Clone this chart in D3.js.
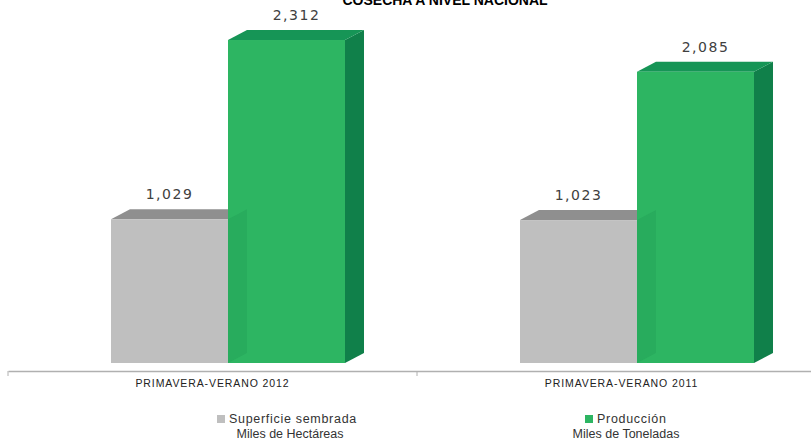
<!DOCTYPE html>
<html><head><meta charset="utf-8">
<script src="https://cdn.jsdelivr.net/npm/d3@7"></script>
<style>body{margin:0;background:#fff;}svg{display:block;}</style>
</head><body>
<svg id="c" width="811" height="441"></svg>
<script>
const title = "COSECHA A NIVEL NACIONAL";
const categories = ["PRIMAVERA-VERANO 2012", "PRIMAVERA-VERANO 2011"];
const seriesNames = ["Superficie sembrada", "Producción"];
const seriesUnits = ["Miles de Hectáreas", "Miles de Toneladas"];
const superficie = [1029, 1023];
const produccion = [2312, 2085];
const valueLabels = [["1,029", "1,023"], ["2,312", "2,085"]];

const svg = d3.select("#c");
const baseY = 363, axisY = 371;
const dx = 19, dy = 10;
const barW = 117;
const colors = [
  {front: "#bfbfbf", top: "#8f8f8f", side: "#9a9a9a"},
  {front: "#2db562", top: "#169556", side: "#10804a"}
];

const x = d3.scaleBand().domain(categories).range([8, 826]);
const y = d3.scaleLinear().domain([0, 2500]).range([baseY, baseY - 2500 * 0.1397]);

// title (cut off at top as in the reference)
svg.append("text").attr("x", 445).attr("y", 5).attr("text-anchor", "middle")
  .attr("font-family", "Liberation Sans, Arial, sans-serif").attr("font-weight", "bold")
  .attr("font-size", 14).attr("fill", "#000").text(title);

const series = [superficie, produccion];
const g = svg.append("g");
categories.forEach((cat, ci) => {
  const geo = series.map((vals, si) => {
    const x0 = x(cat) + 103 + si * barW;
    return {x0, x1: x0 + barW, yt: y(vals[ci]), yb: y(0)};
  });
  series.forEach((vals, si) => {
    const c = colors[si];
    const {x0, x1, yt, yb} = geo[si];
    const bar = g.append("g");
    bar.append("path")
      .attr("d", `M${x1},${yt}L${x1 + dx},${yt - dy}L${x1 + dx},${yb - dy}L${x1},${yb}Z`)
      .attr("fill", c.side);
    bar.append("path")
      .attr("d", `M${x0},${yt}L${x0 + dx},${yt - dy}L${x1 + dx},${yt - dy}L${x1},${yt}Z`)
      .attr("fill", c.top);
    bar.append("rect").attr("x", x0).attr("y", yt).attr("width", barW).attr("height", yb - yt)
      .attr("fill", c.front);
    bar.append("text")
      .attr("x", (x0 + x1) / 2 + (si === 0 ? 0 : 10))
      .attr("y", yt - dy - 10)
      .attr("text-anchor", "middle")
      .attr("font-family", "DejaVu Sans, sans-serif").attr("font-size", 14)
      .attr("letter-spacing", 1.5).attr("fill", "#404040")
      .text(valueLabels[si][ci]);
  });
  // gray bar's hidden side showing through the translucent green front
  const gr = geo[0];
  g.append("path")
    .attr("d", `M${gr.x1},${gr.yt}L${gr.x1 + dx},${gr.yt - dy}L${gr.x1 + dx},${gr.yb - dy}L${gr.x1},${gr.yb}Z`)
    .attr("fill", "#0b6b36").attr("fill-opacity", 0.12);
});

// axis
const ax = svg.append("g").attr("transform", `translate(0,${axisY})`)
  .call(d3.axisBottom(x).tickSize(0).tickPadding(9));
ax.select(".domain").attr("stroke", "#b0b0b0").attr("stroke-width", 1.5);
ax.selectAll("text").attr("font-family", "Liberation Sans, Arial, sans-serif")
  .attr("font-size", 10.5).attr("letter-spacing", 0.9).attr("fill", "#222");
[8, 417].forEach(t => {
  svg.append("line").attr("x1", t).attr("x2", t).attr("y1", axisY).attr("y2", axisY + 5)
    .attr("stroke", "#b0b0b0").attr("stroke-width", 1);
});

// legend
const legendX = [217, 585];
const unitX = [290, 626];
seriesNames.forEach((n, i) => {
  svg.append("rect").attr("x", legendX[i]).attr("y", 415).attr("width", 8).attr("height", 8)
    .attr("fill", colors[i].front);
  svg.append("text").attr("x", legendX[i] + 12).attr("y", 423)
    .attr("font-family", "Liberation Sans, Arial, sans-serif").attr("font-size", 12.5)
    .attr("letter-spacing", 0.7).attr("fill", "#333").text(n);
  svg.append("text").attr("x", unitX[i]).attr("y", 438).attr("text-anchor", "middle")
    .attr("font-family", "Liberation Sans, Arial, sans-serif").attr("font-size", 12.5)
    .attr("fill", "#333").text(seriesUnits[i]);
});
</script>
</body></html>
